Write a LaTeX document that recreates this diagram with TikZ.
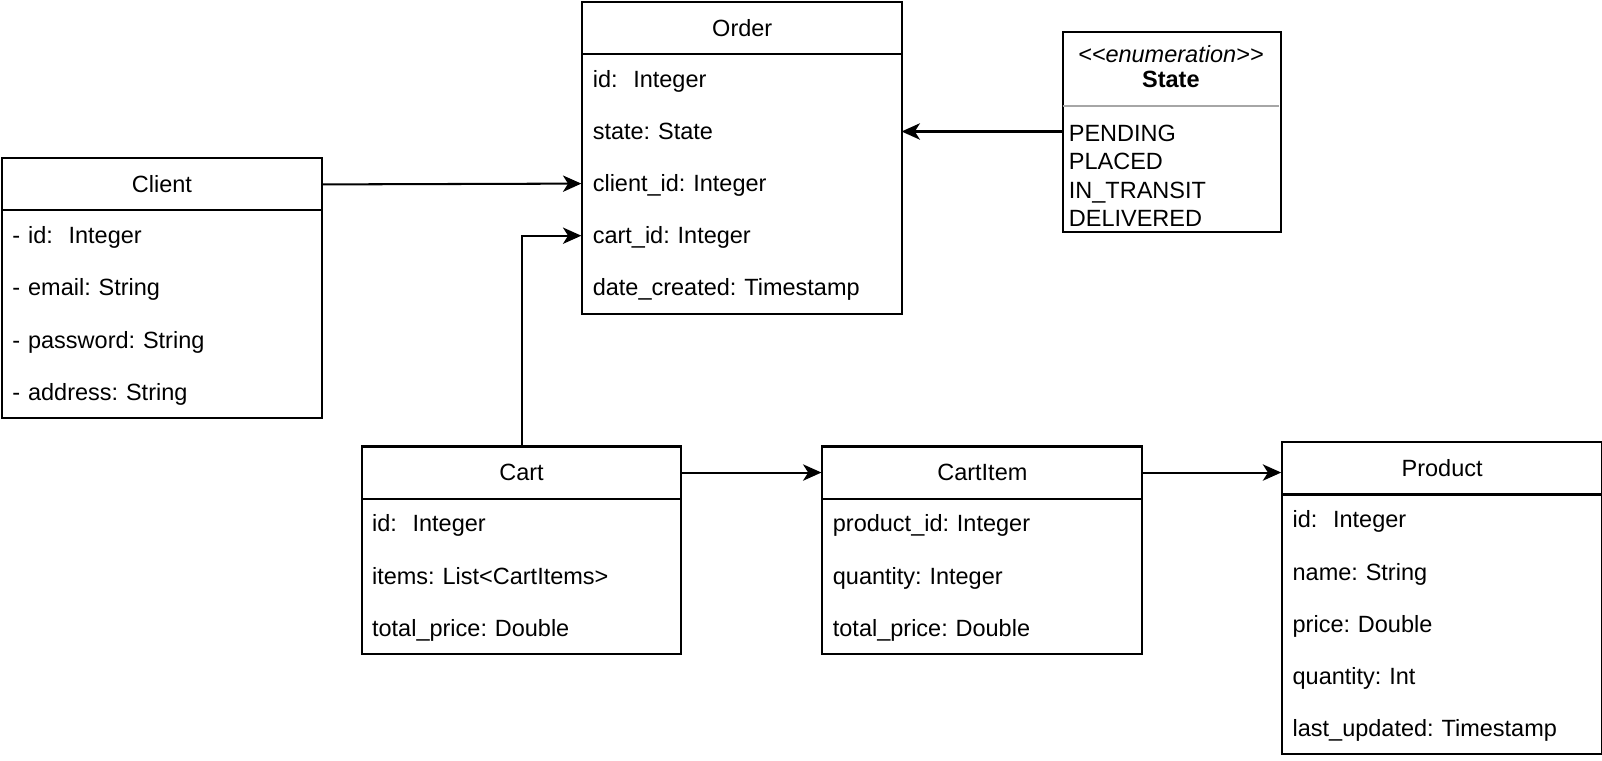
\documentclass[tikz,border=0pt]{standalone}
\usepackage{fontspec}
\setmainfont{Liberation Sans}
\usetikzlibrary{arrows.meta}
\frenchspacing
\newcommand\umlfont{\fontsize{23}{27.7}\selectfont\frenchspacing}
\tikzset{
  cls/.style={draw, line width=2pt, minimum width=313pt, anchor=north west, inner sep=0pt},
  head/.style={draw, line width=2pt, minimum width=313pt, minimum height=51pt, anchor=north west, inner sep=0pt, font=\umlfont, text height=16pt, text depth=0pt},
  row/.style={minimum width=313pt, minimum height=51pt, anchor=north west, inner sep=0pt, text width=291pt, align=left, font=\umlfont, text height=16pt, text depth=0pt},
  conn/.style={line width=2pt, -{Stealth[length=18pt,width=16pt,inset=5pt]}}
}
\begin{document}
\begin{tikzpicture}[x=1pt,y=-1pt]
\useasboundingbox (0,0) rectangle (1568,744);
% Order
\node[cls, minimum height=305pt] (order) at (569,1) {};
\node[head] (orderhead) at (569,1) {Order};
\node[row] (orderid) at (569,52) {id:~ Integer};
\node[row] (orderstate) at (569,103) {state: State};
\node[row] (orderclient) at (569,154) {client\_id: Integer};
\node[row] (ordercart) at (569,205) {cart\_id: Integer};
\node[row] (orderdate) at (569,256) {date\_created: Timestamp};
% Client
\node[cls, minimum height=254pt] (client) at (1,154) {};
\node[head] (clienthead) at (1,154) {Client};
\node[row] (clientid) at (1,205) {- id:~ Integer};
\node[row] (clientemail) at (1,256) {- email: String};
\node[row] (clientpw) at (1,307) {- password: String};
\node[row] (clientaddr) at (1,358) {- address: String};
% Cart
\node[cls, minimum height=203pt] (cart) at (353,436) {};
\node[head] (carthead) at (353,436) {Cart};
\node[row] (cartid) at (353,487) {id:~ Integer};
\node[row] (cartitems) at (353,538) {items: List<CartItems>};
\node[row] (cartprice) at (353,589) {total\_price: Double};
% CartItem
\node[cls, minimum height=203pt] (cartitem) at (804,436) {};
\node[head] (cartitemhead) at (804,436) {CartItem};
\node[row] (cipid) at (804,487) {product\_id: Integer};
\node[row] (ciqty) at (804,538) {quantity: Integer};
\node[row] (ciprice) at (804,589) {total\_price: Double};
% Product
\node[cls, minimum height=305pt] (product) at (1254,432) {};
\node[head] (producthead) at (1254,432) {Product};
\node[row] (prodid) at (1254,483) {id:~ Integer};
\node[row] (prodname) at (1254,534) {name: String};
\node[row] (prodprice) at (1254,585) {price: Double};
\node[row] (prodqty) at (1254,636) {quantity: Int};
\node[row] (produpd) at (1254,687) {last\_updated: Timestamp};
% State enumeration
\node[draw, line width=2pt, minimum width=214pt, minimum height=196pt, anchor=north west, inner sep=0pt] (state) at (1039,30) {};
\node[font=\umlfont\itshape, inner sep=0pt] (stateenum) at (1146,53) {<{}<enumeration>{}>};
\node[font=\umlfont\bfseries, inner sep=0pt] (statename) at (1146,78) {State};
\draw[gray!70, line width=2pt] (1040,104) -- (1252,104);
\node[font=\umlfont, align=left, anchor=west, inner sep=0pt] (statevals) at (1046,172) {PENDING\\PLACED\\IN\_TRANSIT\\DELIVERED};
% connectors
\draw[conn] (clienthead.east) -- (orderclient.west);
\draw[conn] (carthead.north) |- (ordercart.west);
\draw[conn] (state.west |- orderstate) -- (orderstate.east);
\draw[conn] (carthead.east) -- (cartitemhead.west);
\draw[conn] (cartitemhead.east) -- (cartitemhead.east -| producthead.west);
\end{tikzpicture}
\end{document}
